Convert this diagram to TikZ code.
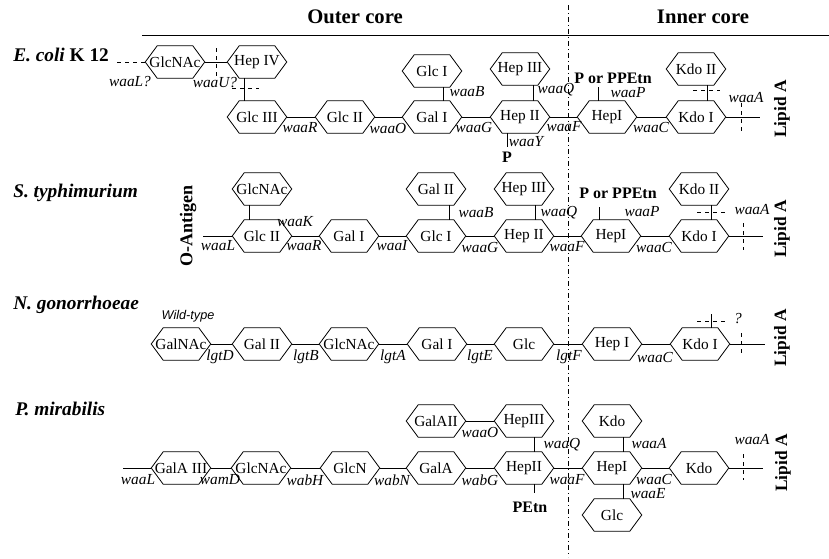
\documentclass[tikz,border=0pt]{standalone}
\usepackage{fontspec}
\setmainfont{Liberation Serif}
\setsansfont{Liberation Sans}
\usetikzlibrary{calc}

\begin{document}
\begin{tikzpicture}[x=0.75pt, y=-0.75pt,
  every node/.style={font=\fontsize{11.5}{13}\selectfont},
  sugar/.style={minimum width=44.25pt, minimum height=24pt, inner sep=0pt,
    append after command={\pgfextra{\draw[line width=0.6pt] (\tikzlastnode.west)
      -- ([xshift=9pt]\tikzlastnode.north west) -- ([xshift=-9pt]\tikzlastnode.north east)
      -- (\tikzlastnode.east) -- ([xshift=-9pt]\tikzlastnode.south east)
      -- ([xshift=9pt]\tikzlastnode.south west) -- cycle;}}},
  gene/.style={font=\fontsize{11.5}{13}\selectfont\itshape, inner sep=0pt},
  organism/.style={font=\fontsize{14.5}{17}\selectfont\bfseries\itshape, anchor=west, inner sep=0pt},
  group/.style={font=\fontsize{12}{14}\selectfont\bfseries, inner sep=0pt},
  lipid/.style={font=\fontsize{13}{15}\selectfont\bfseries, rotate=90, inner sep=0pt},
  bond/.style={line width=0.6pt},
  cut/.style={line width=0.6pt, dashed}]
  \useasboundingbox (0,0) rectangle (829,558);
  % Titres
  \node[font=\fontsize{15.5}{18}\selectfont\bfseries] (outer) at (355,17) {Outer core};
  \node[font=\fontsize{15.5}{18}\selectfont\bfseries] (inner) at (703,17) {Inner core};
  \draw[bond] (142,35) -- (829,35);
  \draw[bond, dash pattern=on 4pt off 2pt on 1pt off 2pt] (568,5) -- (568,557);

  % E. coli K 12
  \node[organism] (ecName) at (13,55) {E. coli \textup{K 12}};
  \node[sugar] (ecGlcNAc) at (175,62) {GlcNAc};
  \node[sugar] (ecHepIV) at (257,62) {Hep IV};
  \node[sugar] (ecGlcIII) at (257,117) {Glc III};
  \node[sugar] (ecGlcII) at (345,117) {Glc II};
  \node[sugar] (ecGalI) at (432,117) {Gal I};
  \node[sugar] (ecGlcI) at (432,71) {Glc I};
  \node[sugar] (ecHepII) at (520,117) {Hep II};
  \node[sugar] (ecHepIII) at (520,69) {Hep III};
  \node[sugar] (ecHepI) at (607,117) {HepI};
  \node[sugar] (ecKdoI) at (696,117) {Kdo I};
  \node[sugar] (ecKdoII) at (696,69) {Kdo II};
  \coordinate (ecO) at (117,62);
  \coordinate (ecLipid) at (760,117);
  \draw[cut] (ecO) -- (ecGlcNAc.west);
  \draw[bond] (ecGlcNAc.east) -- (ecHepIV.west);
  \draw[cut] (216,48) -- (216,77);
  \draw[bond] ($(ecHepIV.south)+(-13,0)$) -- ($(ecGlcIII.north)+(-13,0)$);
  \draw[cut] (232,88) -- (259,88);
  \draw[bond] (ecGlcIII) -- (ecGlcII) -- (ecGalI) -- (ecHepII) -- (ecHepI) -- (ecKdoI);
  \draw[bond] ($(ecGlcI.south)+(11,0)$) -- ($(ecGalI.north)+(11,0)$);
  \draw[bond] ($(ecHepIII.south)+(13,0)$) -- ($(ecHepII.north)+(13,0)$);
  \node[group] (ecP) at (507,157) {P};
  \draw[bond] ($(ecHepII.south)+(-13,0)$) -- ++(0,14);
  \node[group] (ecPP) at (613,78) {P or PPEtn};
  \draw[bond] ($(ecHepI.north)+(-9,0)$) -- ++(0,-14);
  \draw[bond] ($(ecKdoII.south)+(11,0)$) -- ($(ecKdoI.north)+(11,0)$);
  \draw[cut] (693,90) -- (720,90);
  \draw[bond] (ecKdoI.east) -- (ecLipid);
  \draw[cut] (741,103) -- (741,133);
  \node[gene] at (130,82) {waaL?};
  \node[gene] at (215,83) {waaU?};
  \node[gene] at (300,128) {waaR};
  \node[gene] at (388,128) {waaO};
  \node[gene] at (467,92) {waaB};
  \node[gene] at (474,127) {waaG};
  \node[gene] at (556,90) {waaQ};
  \node[gene] at (564,127) {waaF};
  \node[gene] at (526,142) {waaY};
  \node[gene] at (628,93) {waaP};
  \node[gene] at (651,127) {waaC};
  \node[gene] at (746,98) {waaA};
  \node[lipid] at (782,109) {Lipid A};

  % S. typhimurium
  \node[organism] (stName) at (13,193) {S. typhimurium};
  \node[lipid, font=\fontsize{13.5}{15}\selectfont\bfseries] (stOAg) at (188,226) {O-Antigen};
  \node[sugar] (stGlcNAc) at (262,189) {GlcNAc};
  \node[sugar] (stGlcII) at (262,236) {Glc II};
  \node[sugar] (stGalI) at (349,236) {Gal I};
  \node[sugar] (stGalII) at (436,189) {Gal II};
  \node[sugar] (stGlcI) at (436,236) {Glc I};
  \node[sugar] (stHepIII) at (524,189) {Hep III};
  \node[sugar] (stHepII) at (524,236) {Hep II};
  \node[sugar] (stHepI) at (611,236) {HepI};
  \node[sugar] (stKdoII) at (699,189) {Kdo II};
  \node[sugar] (stKdoI) at (699,236) {Kdo I};
  \coordinate (stO) at (203,236);
  \coordinate (stLipid) at (763,236);
  \draw[bond] (stO) -- (stGlcII) -- (stGalI) -- (stGlcI) -- (stHepII) -- (stHepI) -- (stKdoI) -- (stLipid);
  \draw[bond] ($(stGlcNAc.south)+(-13,0)$) -- ($(stGlcII.north)+(-13,0)$);
  \draw[bond] ($(stGalII.south)+(13,0)$) -- ($(stGlcI.north)+(13,0)$);
  \draw[bond] ($(stHepIII.south)+(11,0)$) -- ($(stHepII.north)+(11,0)$);
  \node[group] (stPP) at (618,193) {P or PPEtn};
  \draw[bond] ($(stHepI.north)+(-12,0)$) -- ++(0,-13);
  \draw[bond] ($(stKdoII.south)+(12,0)$) -- ($(stKdoI.north)+(12,0)$);
  \draw[cut] (697,212) -- (725,212);
  \draw[cut] (743,223) -- (743,250);
  \node[gene] at (295,222) {waaK};
  \node[gene] at (218,246) {waaL};
  \node[gene] at (304,246) {waaR};
  \node[gene] at (392,246) {waaI};
  \node[gene] at (476,213) {waaB};
  \node[gene] at (480,247) {waaG};
  \node[gene] at (559,213) {waaQ};
  \node[gene] at (567,247) {waaF};
  \node[gene] at (642,212) {waaP};
  \node[gene] at (654,247) {waaC};
  \node[gene] at (752,210) {waaA};
  \node[lipid] at (782,229) {Lipid A};

  % N. gonorrhoeae
  \node[organism] (ngName) at (13,305) {N. gonorrhoeae};
  \node[font=\fontsize{9.5}{11}\selectfont\sffamily\itshape] at (188,316) {Wild-type};
  \node[sugar] (ngGalNAc) at (181,344) {GalNAc};
  \node[sugar] (ngGalII) at (262,344) {Gal II};
  \node[sugar] (ngGlcNAc) at (349,344) {GlcNAc};
  \node[sugar] (ngGalI) at (437,344) {Gal I};
  \node[sugar] (ngGlc) at (524,344) {Glc};
  \node[sugar] (ngHepI) at (612,344) {Hep I};
  \node[sugar] (ngKdoI) at (700,344) {Kdo I};
  \coordinate (ngLipid) at (765,344);
  \draw[bond] (ngGalNAc) -- (ngGalII) -- (ngGlcNAc) -- (ngGalI) -- (ngGlc) -- (ngHepI) -- (ngKdoI) -- (ngLipid);
  \draw[bond] ($(ngKdoI.north)+(11,0)$) -- ++(0,-14);
  \draw[cut] (697,321) -- (725,321);
  \draw[cut] (741,333) -- (741,355);
  \node[gene] at (220,357) {lgtD};
  \node[gene] at (306,357) {lgtB};
  \node[gene] at (393,357) {lgtA};
  \node[gene] at (480,357) {lgtE};
  \node[gene] at (569,357) {lgtF};
  \node[gene] at (655,357) {waaC};
  \node[gene] at (738,319) {?};
  \node[lipid] at (782,338) {Lipid A};

  % P. mirabilis
  \node[organism] (pmName) at (15,409) {P. mirabilis};
  \node[sugar] (pmGalAIII) at (181,468) {GalA III};
  \node[sugar] (pmGlcNAc) at (261,468) {GlcNAc};
  \node[sugar] (pmGlcN) at (350,468) {GlcN};
  \node[sugar] (pmGalA) at (436,468) {GalA};
  \node[sugar] (pmGalAII) at (436,421) {GalAII};
  \node[sugar] (pmHepII) at (524,468) {HepII};
  \node[sugar] (pmHepIII) at (524,421) {HepIII};
  \node[sugar] (pmHepI) at (612,468) {HepI};
  \node[sugar] (pmKdoB) at (612,421) {Kdo};
  \node[sugar] (pmGlc) at (612,515) {Glc};
  \node[sugar] (pmKdo) at (699,468) {Kdo};
  \coordinate (pmO) at (123,468);
  \coordinate (pmLipid) at (763,468);
  \draw[bond] (pmO) -- (pmGalAIII) -- (pmGlcNAc) -- (pmGlcN) -- (pmGalA) -- (pmHepII) -- (pmHepI) -- (pmKdo) -- (pmLipid);
  \draw[bond] (pmGalAII) -- (pmHepIII);
  \draw[bond] ($(pmHepIII.south)+(10,0)$) -- ($(pmHepII.north)+(10,0)$);
  \node[group] (pmPEtn) at (530,507) {PEtn};
  \draw[bond] ($(pmHepII.south)+(10,0)$) -- ++(0,9);
  \draw[bond] ($(pmKdoB.south)+(11,0)$) -- ($(pmHepI.north)+(11,0)$);
  \draw[bond] ($(pmHepI.south)+(11,0)$) -- ($(pmGlc.north)+(11,0)$);
  \draw[cut] (743,454) -- (743,480);
  \node[gene] at (480,432) {waaO};
  \node[gene] at (138,480) {waaL};
  \node[gene] at (220,480) {wamD};
  \node[gene] at (305,480) {wabH};
  \node[gene] at (392,480) {wabN};
  \node[gene] at (480,480) {wabG};
  \node[gene] at (562,445) {waaQ};
  \node[gene] at (567,480) {waaF};
  \node[gene] at (649,444) {waaA};
  \node[gene] at (654,479) {waaC};
  \node[gene] at (648,494) {waaE};
  \node[gene] at (752,440) {waaA};
  \node[lipid] at (783,463) {Lipid A};
\end{tikzpicture}
\end{document}
